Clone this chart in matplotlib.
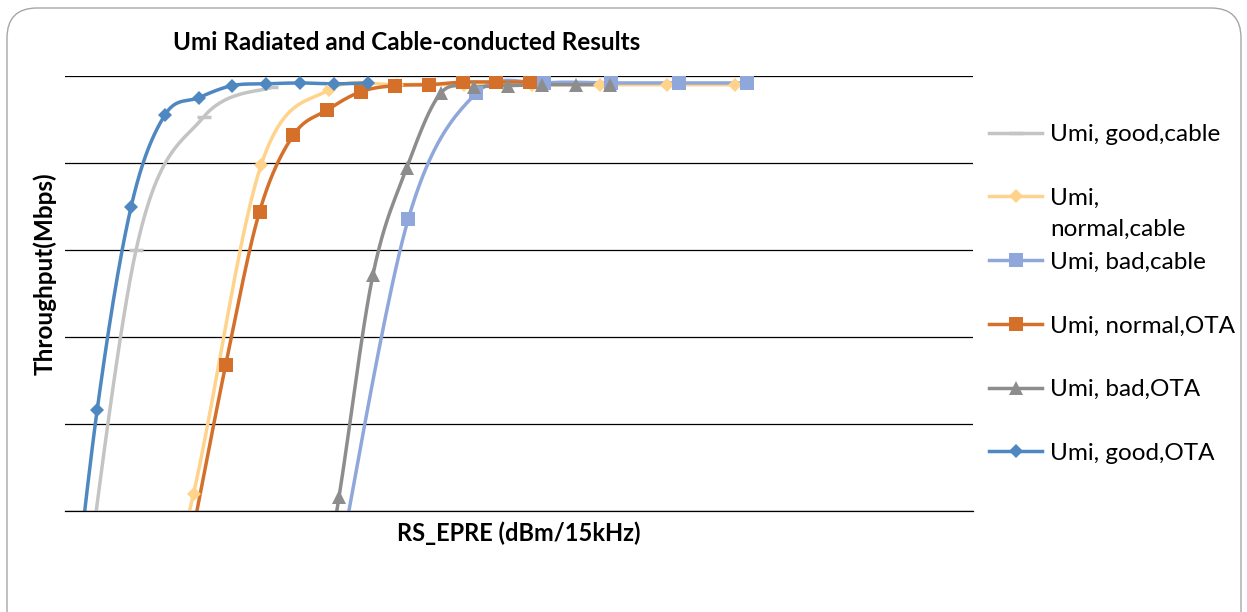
import numpy as np
import matplotlib
matplotlib.use("Agg")
import matplotlib.pyplot as plt
from matplotlib.patches import FancyBboxPatch

plt.rcParams['font.family'] = ['Lato', 'DejaVu Sans']

# ---------------- data ----------------
title = "Umi Radiated and Cable-conducted Results"
x_label = "RS_EPRE (dBm/15kHz)"
y_label = "Throughput(Mbps)"

labels = ["Umi, good,cable", "Umi,", "Umi, bad,cable",
          "Umi, normal,OTA", "Umi, bad,OTA", "Umi, good,OTA"]
label_wrap = "normal,cable"   # second line of the "Umi, normal,cable" entry

good_cable_x = [-124.85, -122.85, -120.85, -118.85]
good_cable_y = [5.0, 60.0, 75.3, 78.7]

normal_cable_x = [-123.15, -121.15, -119.15, -117.15, -115.15, -113.15,
                  -111.15, -109.15, -107.15, -105.15]
normal_cable_y = [1.0, 32.0, 69.8, 78.4, 79.0, 79.0, 79.0, 79.0, 79.0, 79.0]

bad_cable_x = [-116.8, -114.8, -112.8, -110.8, -108.8, -106.8, -104.8]
bad_cable_y = [25.0, 63.6, 78.0, 79.2, 79.2, 79.2, 79.2]

normal_ota_x = [-121.2, -120.2, -119.2, -118.2, -117.2, -116.2, -115.2,
                -114.2, -113.2, -112.2, -111.2]
normal_ota_y = [27.0, 46.8, 64.4, 73.2, 76.1, 78.2, 78.9, 79.0, 79.3, 79.3, 79.3]

bad_ota_x = [-117.85, -116.85, -115.85, -114.85, -113.85, -112.85, -111.85,
             -110.85, -109.85, -108.85]
bad_ota_y = [8.0, 31.6, 57.1, 69.4, 78.0, 78.7, 78.9, 79.0, 79.0, 79.0]

good_ota_x = [-125, -124, -123, -122, -121, -120, -119, -118, -117, -116]
good_ota_y = [8.0, 41.6, 64.9, 75.5, 77.5, 78.9, 79.1, 79.2, 79.1, 79.2]

x_range = (-124.95, -98.11)
y_range = (30, 80)
y_grid = [30, 40, 50, 60, 70, 80]

# ---------------- styling ----------------
colors = ["#C4C4C4", "#FFD38B", "#8FA7DA", "#D4702A", "#8D8D8D", "#4F87C0"]
markers = ["_", "D", "s", "s", "^", "D"]
msizes = [10, 7.5, 9.5, 9.5, 9.5, 7.5]
FS = 17.5


def smooth(xs, ys, n=24):
    """Excel-style smoothed line (Catmull-Rom / cubic Bezier) through points."""
    p = np.column_stack([xs, ys]).astype(float)
    out = [p[0]]
    for i in range(len(p) - 1):
        p0 = p[i - 1] if i > 0 else p[i]
        p1 = p[i]
        p2 = p[i + 1]
        p3 = p[i + 2] if i + 2 < len(p) else p[i + 1]
        c1 = p1 + (p2 - p0) / 6.0
        c2 = p2 - (p3 - p1) / 6.0
        t = np.linspace(0, 1, n)[1:, None]
        b = ((1 - t) ** 3) * p1 + 3 * ((1 - t) ** 2) * t * c1 + 3 * (1 - t) * t ** 2 * c2 + t ** 3 * p2
        out.extend(b)
    out = np.array(out)
    return out[:, 0], out[:, 1]


fig = plt.figure(figsize=(12.47, 6.12), dpi=100)
ax = fig.add_axes([65 / 1247, 1 - 511 / 612, 908 / 1247, 435 / 612])

series = [(good_cable_x, good_cable_y), (normal_cable_x, normal_cable_y),
          (bad_cable_x, bad_cable_y), (normal_ota_x, normal_ota_y),
          (bad_ota_x, bad_ota_y), (good_ota_x, good_ota_y)]

handles = []
for (xs, ys), c, m, ms, lab in zip(series, colors, markers, msizes, labels):
    sx, sy = smooth(xs, ys)
    ax.plot(sx, sy, color=c, lw=2.5, solid_capstyle='round', zorder=2)
    mew = 2.5 if m == "_" else 0
    ax.plot(xs, ys, linestyle='none', marker=m, markersize=ms, color=c,
            markeredgewidth=mew, markeredgecolor=c, zorder=3)
    h, = ax.plot([], [], color=c, lw=2.5, marker=m, markersize=ms,
                 markeredgewidth=mew, markeredgecolor=c, label=lab)
    handles.append(h)

ax.set_xlim(*x_range)
ax.set_ylim(*y_range)
ax.set_yticks(y_grid)
ax.set_xticks([])
ax.tick_params(left=False, labelleft=False, bottom=False, labelbottom=False)
ax.grid(axis='y', color='black', lw=0.9)
for s in ['left', 'right', 'top']:
    ax.spines[s].set_visible(False)
ax.spines['bottom'].set_color('black')
ax.spines['bottom'].set_linewidth(0.9)
ax.set_axisbelow(True)

fig.text(407 / 1247, 1 - 43 / 612, title, ha='center', va='center',
         fontsize=17.5, fontweight='bold')
fig.text(519 / 1247, 1 - 533 / 612, x_label, ha='center', va='center',
         fontsize=17, fontweight='bold')
fig.text(45 / 1247, 1 - 274 / 612, y_label, ha='center', va='center',
         rotation=90, fontsize=17.5, fontweight='bold')

leg = fig.legend(handles=handles, loc='upper left',
                 bbox_to_anchor=(989 / 1247, 1 - 124 / 612), frameon=False,
                 fontsize=FS, handlelength=2.2, handletextpad=0.3,
                 labelspacing=1.76, borderpad=0, borderaxespad=0)

# wrapped second line of the "Umi, normal,cable" legend entry
fig.canvas.draw()
t1 = leg.get_texts()[1]
bb = t1.get_window_extent()
fig.text(bb.x0, bb.y0 - 31, label_wrap, transform=None,
         fontsize=FS, ha='left', va='bottom')

border = FancyBboxPatch((0.07, -0.3), 12.34, 6.34,
                        boxstyle="round,pad=0,rounding_size=0.3",
                        transform=fig.dpi_scale_trans, fill=False,
                        edgecolor="#A6A6A6", lw=1.0, clip_on=False)
fig.add_artist(border)

fig.savefig("out.png", dpi=100)
